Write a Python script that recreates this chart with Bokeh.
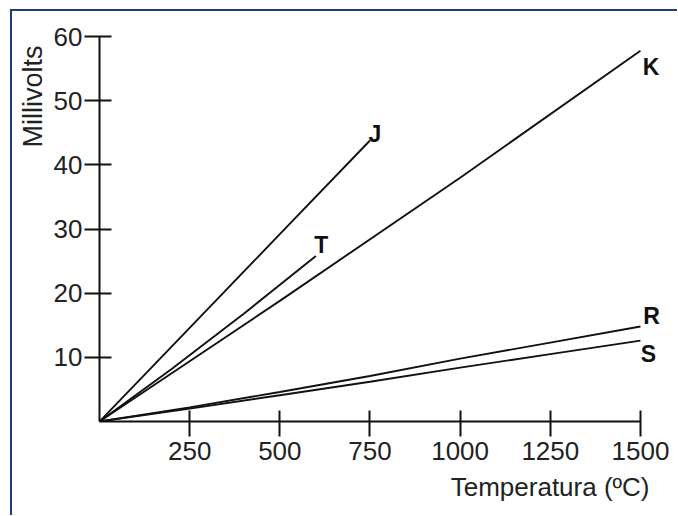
from bokeh.plotting import figure
from bokeh.models import Range1d, FixedTicker, ColumnDataSource, Title
from bokeh.core.properties import value
from bokeh.embed import file_html
from bokeh.resources import INLINE

# ---- data ----
j_temp = [0, 250, 500, 750]
j_mv = [0, 14.6, 29.2, 43.8]
t_temp = [0, 200, 400, 600]
t_mv = [0, 8.2, 16.8, 25.8]
k_temp = [0, 500, 1000, 1500]
k_mv = [0, 18.8, 38.0, 57.8]
r_temp = [0, 250, 500, 750, 1000, 1250, 1500]
r_mv = [0, 2.2, 4.6, 7.1, 9.8, 12.3, 14.8]
s_temp = [0, 250, 500, 750, 1000, 1250, 1500]
s_mv = [0, 2.0, 4.1, 6.2, 8.4, 10.5, 12.6]
series_names = ["J", "T", "K", "R", "S"]
x_ticks = [250, 500, 750, 1000, 1250, 1500]
y_ticks = [10, 20, 30, 40, 50, 60]
x_title = "Temperatura (ºC)"
y_title = "Millivolts"

# ---- style / layout ----
label_dx = [5, 5.5, 10.5, 11, 8]
label_dy = [-7, -10.5, 16.5, -11, 13.5]
ink = "#111111"
font = "Liberation Sans"

W, H = 667, 506
p = figure(width=W, height=H, output_backend="svg", toolbar_location=None,
           x_range=Range1d(0, 1594.4), y_range=Range1d(0, 62.977),
           min_border_left=86, min_border_right=5, min_border_top=6,
           min_border_bottom=96)
p.margin = (9, 0, 0, 10)
p.styles = {"border-left": "2px solid #1f3b7a", "border-top": "2px solid #1f3b7a"}
p.grid.visible = False
p.outline_line_color = None
p.background_fill_color = "white"
p.border_fill_color = "white"

for ax, ticks, bounds in ((p.xaxis[0], x_ticks, (0, 1500)), (p.yaxis[0], y_ticks, (0, 60))):
    ax.ticker = FixedTicker(ticks=ticks)
    ax.bounds = bounds
    ax.axis_line_color = ink
    ax.axis_line_width = 2
    ax.major_tick_line_color = ink
    ax.major_tick_line_width = 2
    ax.minor_tick_line_color = None
    ax.major_label_text_font = font
    ax.major_label_text_font_size = "26px"
    ax.major_label_text_color = "#222222"

p.xaxis.major_tick_in = 11
p.xaxis.major_tick_out = 15
p.xaxis.major_label_standoff = 5
p.yaxis.major_tick_in = 12
p.yaxis.major_tick_out = 15
p.yaxis.major_label_standoff = 2

series = [(j_temp, j_mv), (t_temp, t_mv), (k_temp, k_mv), (r_temp, r_mv), (s_temp, s_mv)]
for (xs, ys) in series:
    p.line(xs, ys, line_color=ink, line_width=1.9)

src = ColumnDataSource(dict(
    x=[s[0][-1] for s in series],
    y=[s[1][-1] for s in series],
    name=series_names,
    dx=label_dx,
    dy=label_dy,
))
p.text(x="x", y="y", text="name", x_offset="dx", y_offset="dy", source=src,
       text_align="center", text_baseline="middle", text_color=ink,
       text_font=value(font), text_font_size="23px", text_font_style="bold")

p.add_layout(Title(text=y_title, align="right", offset=28, standoff=6,
                   text_font=font, text_font_size="27px",
                   text_font_style="normal", text_color="#222222"), "left")
p.add_layout(Title(text=x_title, align="right", offset=25, standoff=14,
                   text_font=font, text_font_size="26px",
                   text_font_style="normal", text_color="#222222"), "below")

open("out.html", "w").write(file_html(p, INLINE))
